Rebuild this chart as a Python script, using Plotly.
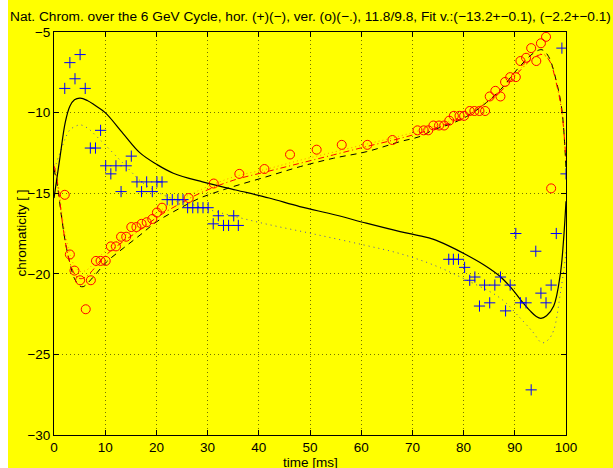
import plotly.graph_objects as go

# ---------------- data ----------------
title_text = ("Nat. Chrom. over the 6 GeV Cycle, hor. (+)(\u2212), ver. (o)(\u2212.), 11.8/9.8, "
              "Fit v.:(\u221213.2+\u22120.1), (\u22122.2+\u22120.1)")
x_label = "time [ms]"
y_label = "chromaticity [ ]"

x_ticks = [0, 10, 20, 30, 40, 50, 60, 70, 80, 90, 100]
x_tick_text = ["0", "10", "20", "30", "40", "50", "60", "70", "80", "90", "100"]
y_ticks = [-30, -25, -20, -15, -10, -5]
y_tick_text = ["\u221230", "\u221225", "\u221220", "\u221215", "\u221210", "\u22125"]

# horizontal chromaticity measurements (+)
hor_t = [2.1, 3.1, 4.1, 5.1, 6.1, 7.1, 8.1, 9.1, 10.1, 11.1, 12.1, 13.1, 14.1, 15.1,
         16.2, 17.1, 18.1, 19.2, 20.1, 21.1, 22.1, 23.1, 24.2, 25.2, 26.1, 27.1, 28.1,
         29.1, 30.1, 31.1, 32.1, 33.1, 34.1, 35.1, 36.0,
         77.1, 78.0, 79.0, 80.2, 81.2, 82.2, 83.1, 84.1, 85.1, 86.1, 87.2, 88.2, 89.1,
         90.2, 91.1, 92.2, 93.2, 94.1, 95.1, 96.1, 97.1, 98.1, 99.2, 100.0]
hor_v = [-8.5, -6.9, -7.9, -6.4, -8.5, -12.2, -12.2, -11.1, -13.3, -13.8, -13.3, -14.9, -13.3, -12.7,
         -14.3, -14.9, -14.3, -14.9, -14.3, -14.3, -15.4, -15.4, -15.4, -15.4, -15.9, -15.9, -15.9,
         -15.9, -15.9, -16.9, -16.4, -17.0, -17.0, -16.4, -17.0,
         -19.1, -19.1, -19.1, -19.6, -20.4, -20.2, -22.0, -20.7, -21.8, -20.7, -20.2, -22.3, -20.7,
         -17.5, -21.8, -21.8, -27.2, -18.6, -21.2, -21.8, -20.7, -17.5, -6.0, -13.8]

# vertical chromaticity measurements (o)
ver_t = [2.1, 3.1, 4.0, 5.1, 6.2, 7.2, 8.2, 9.1, 10.1, 11.1, 12.1, 13.1, 14.1, 15.1, 16.1,
         17.1, 18.1, 19.2, 20.1, 21.1, 26.3, 31.2, 36.2, 41.1, 46.1, 51.3, 56.2, 61.2, 66.1,
         71.0, 72.2, 73.1, 74.1, 75.2, 76.2, 77.2, 78.1, 79.2, 80.1, 81.2, 82.1, 83.1, 84.2,
         85.1, 86.2, 87.2, 88.1, 89.1, 90.2, 91.1, 92.2, 93.2, 94.2, 95.1, 96.1, 97.1]
ver_v = [-15.1, -18.8, -19.8, -20.4, -22.2, -20.4, -19.2, -19.2, -19.2, -18.3, -18.3, -17.7, -17.7,
         -17.1, -17.1, -16.9, -16.8, -16.6, -16.2, -15.9, -15.3, -14.4, -13.8, -13.5, -12.6, -12.3,
         -12.0, -12.0, -11.7, -11.1, -11.1, -11.1, -10.8, -10.8, -10.8, -10.5, -10.2, -10.2, -10.2,
         -9.9, -9.9, -9.9, -9.9, -9.0, -8.65, -9.0, -8.1, -7.8, -7.8, -6.8, -6.6, -6.0, -6.8, -5.7,
         -5.3, -14.7]

# horizontal fit (solid black)
fit_h_t = [0, 1.2, 2.2, 3.1, 4.0, 5.1, 6.5, 8, 10, 13.5, 16.8, 20, 23.3, 29, 35.5, 42, 48,
           55, 61, 67.6, 71.5, 74, 77, 80.6, 84, 87.2, 89.5, 91.1, 93, 94.2, 95.1, 96.2, 97.6,
           98.9, 99.5, 100]
fit_h_v = [-15.3, -12.7, -10.6, -9.6, -9.2, -9.1, -9.25, -9.55, -10.0, -11.3, -12.5, -13.2,
           -13.76, -14.3, -14.8, -15.3, -15.83, -16.35, -16.86, -17.38, -17.65, -17.85, -18.25,
           -18.83, -19.45, -20.18, -20.95, -21.6, -22.3, -22.65, -22.76, -22.6, -22.0, -20.0,
           -18.0, -15.5]

# horizontal model (blue dotted)
mod_h_t = [0, 0.5, 1.4, 2.2, 3.1, 4.2, 5.1, 6.5, 9, 13.5, 17.5, 22, 26, 30.5, 40.3, 50.7, 60.5,
           67.6, 74.1, 80.6, 87.2, 91.1, 93.5, 95.3, 96.5, 97.6, 98.9, 99.9, 100]
mod_h_v = [-13.8, -13.1, -12.3, -11.6, -11.07, -10.85, -10.76, -10.95, -11.69, -13.14, -14.4,
           -15.2, -15.6, -16.04, -16.83, -17.53, -18.21, -18.75, -19.45, -20.39, -21.52, -22.76,
           -23.6, -24.28, -24.1, -23.5, -21.2, -18.94, -18.5]

# vertical model (black dashed)
mod_v_t = [0, 0.7, 1.4, 2.2, 3.0, 4.0, 5.0, 5.7, 6.5, 8, 10.3, 13.5, 16.8, 20.1, 24.6, 28.5,
           31.1, 35, 41.6, 48.1, 54.6, 61.1, 67.6, 71.5, 74.1, 77.5, 80.6, 83.9, 87.2, 90.4,
           93.7, 95.3, 96.6, 98.2, 99.2, 100]
mod_v_v = [-13.5, -14.6, -16.3, -18.0, -19.2, -20.3, -20.75, -20.8, -20.6, -20.08, -19.25, -18.42,
           -17.6, -16.76, -15.93, -15.3, -15.0, -14.59, -13.97, -13.35, -12.83, -12.42, -11.8,
           -11.48, -11.07, -10.7, -10.24, -9.52, -8.58, -7.34, -6.3, -6.1, -6.52, -8.17, -9.83,
           -13.5]

# vertical fit (red dash-dot)
fit_v_t = [0, 0.5, 1.1, 1.75, 2.5, 3.3, 4.2, 5.1, 6.2, 7.5, 9, 11, 13.5, 16.8, 20.1, 24.6, 28.5,
           35, 41.6, 48.1, 54.6, 61.1, 67.6, 74.1, 80.6, 83.9, 87.2, 90.4, 93.7, 95.5, 96.8,
           98.2, 99.2, 100]
fit_v_v = [-13.3, -14.0, -15.4, -17.1, -18.5, -19.5, -20.1, -20.3, -20.2, -19.8, -19.2, -18.6,
           -18.0, -17.28, -16.5, -15.65, -15.0, -14.2, -13.66, -13.14, -12.62, -12.1, -11.6,
           -11.0, -10.2, -9.5, -8.7, -7.6, -6.6, -6.4, -6.8, -8.3, -10.0, -13.0]

# second vertical curve (orange dotted)
alt_v_t = fit_v_t
alt_v_v = [-13.2, -13.8, -15.1, -16.7, -18.0, -19.0, -19.6, -19.85, -19.8, -19.45, -18.9, -18.3,
           -17.7, -16.95, -16.2, -15.4, -14.8, -14.0, -13.5, -12.95, -12.45, -11.95, -11.45,
           -10.85, -10.1, -9.4, -8.6, -7.5, -6.55, -6.35, -6.75, -8.2, -9.9, -12.9]

# ---------------- figure ----------------
W, H = 613, 468
ML, MR, MT, MB = 54, 47, 32, 33
PW = W - ML - MR
YELLOW = "#FFFF00"
FONT = "Liberation Sans, Arial, sans-serif"

fig = go.Figure()

fig.add_trace(go.Scatter(x=mod_h_t, y=mod_h_v, mode="lines", line_shape="spline",
                         line=dict(color="rgba(0,0,255,0.7)", width=1, dash="1px,4px")))
fig.add_trace(go.Scatter(x=alt_v_t, y=alt_v_v, mode="lines", line_shape="spline",
                         line=dict(color="#FF9000", width=1, dash="1px,3px")))
fig.add_trace(go.Scatter(x=mod_v_t, y=mod_v_v, mode="lines", line_shape="spline",
                         line=dict(color="black", width=1, dash="6px,5px")))
fig.add_trace(go.Scatter(x=fit_v_t, y=fit_v_v, mode="lines", line_shape="spline",
                         line=dict(color="red", width=1, dash="6px,3px,1px,3px")))
fig.add_trace(go.Scatter(x=fit_h_t, y=fit_h_v, mode="lines", line_shape="spline",
                         line=dict(color="black", width=1.2)))
fig.add_trace(go.Scatter(x=hor_t, y=hor_v, mode="markers",
                         marker=dict(symbol="cross-thin", size=8, color="blue",
                                     line=dict(color="blue", width=1))))
fig.add_trace(go.Scatter(x=ver_t, y=ver_v, mode="markers",
                         marker=dict(symbol="circle-open", size=9, color="red",
                                     line=dict(color="red", width=1))))

axis_common = dict(
    showline=True, linecolor="black", linewidth=1, mirror="ticks",
    ticks="inside", ticklen=5, tickcolor="black", tickwidth=1,
    showgrid=True, gridcolor="rgba(0,0,0,0.55)", gridwidth=1, griddash="1px,3px",
    zeroline=False, tickmode="array",
    tickfont=dict(family=FONT, size=13.5, color="black"),
)

fig.update_xaxes(range=[0, 100], tickvals=x_ticks, ticktext=x_tick_text, **axis_common)
fig.update_yaxes(range=[-30, -5], tickvals=y_ticks, ticktext=y_tick_text, **axis_common)

title_font = dict(family=FONT, size=13.7, color="black")
label_font = dict(family=FONT, size=13.5, color="black")

fig.update_layout(
    width=W, height=H,
    margin=dict(l=ML, r=MR, t=MT, b=MB, pad=0),
    paper_bgcolor=YELLOW, plot_bgcolor=YELLOW,
    showlegend=False,
    shapes=[dict(type="rect", xref="paper", yref="paper",
                 x0=-ML / PW - 0.05, x1=(8 - ML) / PW, y0=-0.2, y1=1.2,
                 fillcolor="white", line=dict(width=0), layer="below")],
    annotations=[
        dict(text=title_text, xref="paper", yref="paper", x=(8 - ML) / PW, y=1,
             xanchor="left", yanchor="middle", yshift=16, showarrow=False, font=title_font),
        dict(text=x_label, xref="paper", yref="paper", x=0.5, y=0,
             xanchor="center", yanchor="middle", yshift=-27, showarrow=False, font=label_font),
        dict(text=y_label, xref="paper", yref="paper", x=0, y=0.5, textangle=-90,
             xanchor="center", yanchor="middle", xshift=-33, showarrow=False, font=label_font),
    ],
)

fig.write_html("out.html", config={"displayModeBar": False},
               post_script="document.body.style.margin='0';")
